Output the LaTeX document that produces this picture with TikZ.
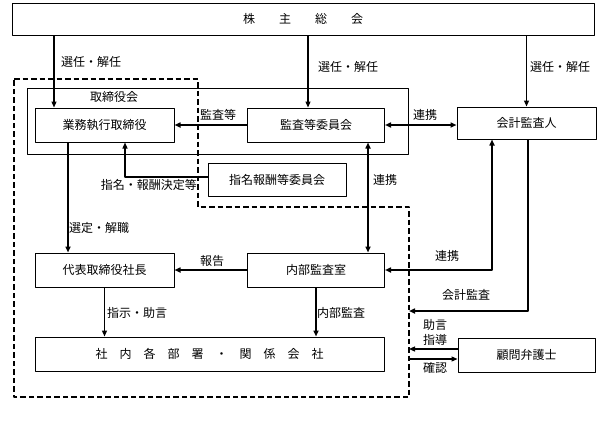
\documentclass[tikz,border=0pt]{standalone}
\usepackage{fontspec}
\newfontfamily\jp{Noto Sans CJK JP}
\usetikzlibrary{arrows.meta,calc}
\begin{document}
\begin{tikzpicture}[>={Triangle[length=6pt,width=5pt]},line join=round,x=1pt,y=-1pt,font=\jp\fontsize{12}{14}\selectfont,
box/.style={draw,line width=1pt,inner sep=0pt,minimum width=139pt,minimum height=34pt},
lbl/.style={inner sep=0pt,anchor=west},
ln/.style={->,line width=1.2pt},
md/.style={->,line width=1.6pt},
tk/.style={->,line width=2.4pt}]
\useasboundingbox (0,0) rectangle (607,423);
\node[box,minimum width=582pt,minimum height=32pt] (kabu) at (303,19) {株　　主　　総　　会};
\node[draw,line width=1pt,minimum width=381pt,minimum height=66pt] (board) at (217.5,121) {}; % 取締役会の枠
\node[inner sep=0pt] (boardlbl) at (114,97) {取締役会};
\node[box] (gyomu) at (104.5,125) {業務執行取締役};
\node[box,minimum width=137pt] (kansa) at (316,125) {監査等委員会};
\node[box,minimum height=32pt] (kaikei) at (526.5,123) {会計監査人};
\node[box,minimum width=138pt,minimum height=33pt] (shimei) at (277,179.5) {指名報酬等委員会};
\node[box] (daihyo) at (104.5,270) {代表取締役社長};
\node[box,minimum width=137pt] (naibu) at (316,270) {内部監査室};
\node[box,minimum width=349pt] (shanai) at (209.5,354) {社　内　各　部　署　・　関　係　会　社};
\node[box,minimum width=137pt] (komon) at (526.5,355) {顧問弁護士};
% 点線の範囲
\draw[line width=2pt,dash pattern=on 5.5pt off 3pt] (14,79) -- (198,79) -- (198,207) -- (409,207) -- (409,397) -- (14,397) -- cycle;
\coordinate (acc) at (409,311);
\coordinate (adv) at (409,349);
\coordinate (cnf) at (409,359);
% 株主総会から
\draw[ln] ($(kabu.south -| gyomu.north)+(-50.5,0)$) -- ($(gyomu.north)+(-50.5,0)$);
\draw[ln] ($(kabu.south -| kansa.north)+(-8,0)$) -- ($(kansa.north)+(-8,0)$);
\draw[ln] (kabu.south -| kaikei.north) -- (kaikei.north);
\node[lbl] (l1) at (61,62) {選任・解任};
\node[lbl] (l2) at (318,67) {選任・解任};
\node[lbl] (l3) at (530,67) {選任・解任};
% 取締役会まわり
\draw[tk] (kansa.west) -- (kansa.west -| gyomu.east);
\node[lbl] (l4) at (200,115) {監査等};
\draw[tk,<->] (kansa.east) -- (kansa.east -| kaikei.west);
\node[lbl] (l5) at (413,115) {連携};
\draw[ln] ([yshift=2.5pt]shimei.west) -| ($(gyomu.south)+(20.5,0)$);
\node[lbl,anchor=east] (l6) at (197,185) {指名・報酬決定等};
\draw[md,<->] ($(kansa.south)+(52,0)$) -- ($(naibu.north)+(52,0)$);
\node[lbl] (l7) at (373,180) {連携};
\draw[tk] ($(gyomu.south)+(-36.5,0)$) -- ($(daihyo.north)+(-36.5,0)$);
\node[lbl] (l8) at (69,228) {選定・解職};
% 内部監査室まわり
\draw[md] (naibu.west) -- (daihyo.east);
\node[lbl] (l9) at (200,261) {報告};
\draw[tk,<->] ($(kaikei.south)+(-34.5,0)$) |- (naibu.east);
\node[lbl] (l10) at (435,256) {連携};
\draw[md] ($(kaikei.south)+(1.5,0)$) |- (acc);
\node[lbl] (l11) at (442,295) {会計監査};
\draw[ln] (daihyo.south) -- (shanai.north -| daihyo.south);
\node[lbl] (l12) at (107,313) {指示・助言};
\draw[tk] (naibu.south) -- (shanai.north -| naibu.south);
\node[lbl] (l13) at (317,313) {内部監査};
% 顧問弁護士
\draw[ln] ([yshift=6pt]komon.west) -- (adv);
\node[lbl] (l14) at (423,325) {助言};
\node[lbl] (l15) at (423,340) {指導};
\draw[ln] (cnf) -- (cnf -| komon.west);
\node[lbl] (l16) at (423,368) {確認};
\end{tikzpicture}
\end{document}
